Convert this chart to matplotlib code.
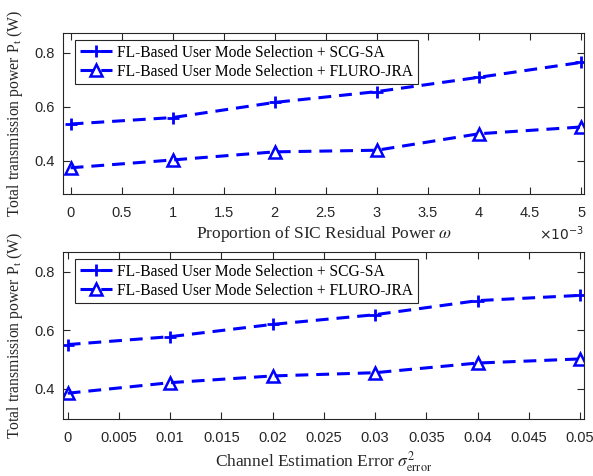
import matplotlib
matplotlib.use("Agg")
import matplotlib.pyplot as plt
from matplotlib.ticker import FuncFormatter, MultipleLocator

plt.rcParams['mathtext.fontset'] = 'stix'

# Data
omega = [0.000, 0.001, 0.002, 0.003, 0.004, 0.005]
scg_omega = [0.536, 0.560, 0.616, 0.656, 0.709, 0.764]
fluro_omega = [0.374, 0.403, 0.433, 0.439, 0.500, 0.525]

sigma = [0.00, 0.01, 0.02, 0.03, 0.04, 0.05]
scg_sigma = [0.551, 0.578, 0.620, 0.653, 0.701, 0.719]
fluro_sigma = [0.385, 0.421, 0.444, 0.455, 0.488, 0.502]

labels = ['FL-Based User Mode Selection + SCG-SA',
          'FL-Based User Mode Selection + FLURO-JRA']
ylabel = 'Total transmission power P$_\\mathrm{t}$ (W)'

W, H = 593, 476
fig = plt.figure(figsize=(W/100, H/100), dpi=100)

def frac(l, t, r, b):
    return [l/W, 1-b/H, (r-l)/W, (b-t)/H]

ax1 = fig.add_axes(frac(63.3, 32.7, 584.3, 194))
ax2 = fig.add_axes(frac(63.3, 252, 584.3, 419))

serif = ['Liberation Serif', 'DejaVu Serif']
sans = ['Liberation Sans', 'DejaVu Sans']
blue = '#0000ff'
dark = '#262626'

def style(ax, x, y1, y2, xlim, ylim, xstep, fmt, legtop):
    ax.plot(x, y1, '--', color=blue, lw=2.2, marker='+', ms=9, mew=2.0,
            dashes=(4.2, 2.6), label=labels[0])
    ax.plot(x, y2, '--', color=blue, lw=2.2, marker='^', ms=8, mew=1.8,
            mfc='none', dashes=(4.2, 2.6), label=labels[1])
    ax.set_xlim(*xlim)
    ax.set_ylim(*ylim)
    ax.xaxis.set_major_locator(MultipleLocator(xstep))
    ax.yaxis.set_major_locator(MultipleLocator(0.2))
    ax.xaxis.set_major_formatter(FuncFormatter(fmt))
    ax.yaxis.set_major_formatter(FuncFormatter(lambda v, p: f"{v:.1f}"))
    ax.tick_params(direction='in', top=True, right=True, length=5,
                   width=0.8, colors=dark, labelsize=10.5)
    ax.tick_params(axis='x', pad=8.5)
    ax.tick_params(axis='y', pad=6)
    for lab in ax.get_xticklabels() + ax.get_yticklabels():
        lab.set_family(sans)
    for s in ax.spines.values():
        s.set_color(dark)
        s.set_linewidth(0.8)
    ax.set_ylabel(ylabel, family=serif, fontsize=11.3, color=dark)
    ax.yaxis.set_label_coords(-0.074, 0.5)
    leg = ax.legend(loc='upper left', prop={'family': serif, 'size': 11.2},
                    handlelength=2.1, handletextpad=0.3, borderpad=0.3,
                    labelspacing=0.2, fancybox=False, framealpha=1,
                    edgecolor=dark, borderaxespad=0,
                    bbox_to_anchor=(75/W, 1-legtop/H),
                    bbox_transform=fig.transFigure)
    leg.get_frame().set_linewidth(0.8)
    for t in leg.get_texts():
        t.set_color('black')

style(ax1, omega, scg_omega, fluro_omega, (-0.000072, 0.005032), (0.277, 0.874),
      0.0005, lambda v, p: f"{v*1e3:g}", 40)
style(ax2, sigma, scg_sigma, fluro_sigma, (-0.00043, 0.05042), (0.297, 0.867),
      0.005, lambda v, p: f"{v:g}", 259)

ax1.set_xlabel('Proportion of SIC Residual Power $\\omega$', family=serif,
               fontsize=12.5, color=dark, labelpad=3)
ax1.text(1.0, -0.245, '$\\times10^{-3}$', transform=ax1.transAxes, ha='right',
         va='center', fontsize=10, color=dark, math_fontfamily='dejavusans')
ax2.set_xlabel('Channel Estimation Error $\\sigma^2_{\\mathrm{error}}$', family=serif,
               fontsize=12.5, color=dark, labelpad=3.5)

fig.savefig('out.png', dpi=100)
